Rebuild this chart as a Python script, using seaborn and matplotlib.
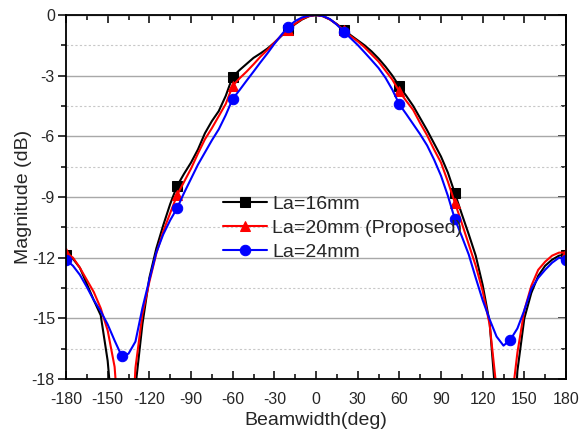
import matplotlib
matplotlib.use("Agg")
import matplotlib.pyplot as plt
import numpy as np
import pandas as pd
import seaborn as sns
from matplotlib.ticker import MultipleLocator

# ---- data ----
angles = list(range(-180, 181, 5))

la16 = [-11.85, -12.05, -12.5, -13.3, -14.1, -14.85, -17.1, -21.0, -27.0, -27.0,
        -18.4, -15.3, -13.0, -11.55, -10.4, -9.35, -8.45, -7.85, -7.3, -6.65,
        -5.85, -5.25, -4.75, -4.0, -3.05, -2.72, -2.42, -2.12, -1.9, -1.66,
        -1.37, -1.04, -0.74, -0.45, -0.22, -0.06, 0.0, -0.06, -0.22, -0.45,
        -0.72, -1.0, -1.25, -1.5, -1.8, -2.15, -2.55, -3.0, -3.53, -4.0,
        -4.5, -5.1, -5.7, -6.35, -7.0, -7.8, -8.82, -9.85, -10.85, -11.9,
        -13.35, -15.2, -19.5, -27.0, -24.0, -17.6, -15.0, -13.75, -12.9, -12.4,
        -12.1, -11.9, -11.85]

la20 = [-11.75, -12.0, -12.5, -13.1, -13.7, -14.5, -15.6, -17.4, -22.0, -24.0,
        -17.45, -14.8, -13.2, -11.8, -10.7, -9.8, -8.9, -8.25, -7.6, -6.85,
        -6.15, -5.6, -5.0, -4.4, -3.5, -3.13, -2.8, -2.44, -2.06, -1.73,
        -1.37, -1.02, -0.72, -0.43, -0.2, -0.05, 0.0, -0.06, -0.22, -0.46,
        -0.75, -1.05, -1.3, -1.6, -1.95, -2.3, -2.75, -3.2, -3.78, -4.25,
        -4.7, -5.35, -5.95, -6.65, -7.3, -8.25, -9.28, -10.3, -11.35, -12.4,
        -13.65, -15.3, -18.5, -24.0, -19.6, -16.7, -14.6, -13.4, -12.6, -12.2,
        -11.9, -11.75, -11.75]

la24 = [-12.1, -12.4, -12.85, -13.45, -14.1, -14.65, -15.3, -16.1, -16.85, -16.75,
        -16.15, -14.5, -13.1, -11.75, -10.85, -10.15, -9.55, -8.8, -8.1, -7.4,
        -6.8, -6.2, -5.65, -4.95, -4.15, -3.71, -3.25, -2.8, -2.34, -1.9,
        -1.43, -0.99, -0.58, -0.3, -0.12, -0.03, 0.0, -0.05, -0.2, -0.48,
        -0.82, -1.15, -1.48, -1.85, -2.23, -2.62, -3.1, -3.7, -4.42, -4.9,
        -5.4, -5.9, -6.45, -7.15, -7.95, -8.95, -10.1, -10.95, -11.85, -13.0,
        -14.1, -15.05, -15.9, -16.35, -16.05, -15.5, -14.6, -13.55, -13.0, -12.6,
        -12.25, -12.0, -12.1]

series_labels = ["La=16mm", "La=20mm (Proposed)", "La=24mm"]
x_ticks = list(range(-180, 181, 30))
y_ticks = list(range(-18, 1, 3))

# ---- style ----
sns.set_style("ticks")
plt.rcParams["font.family"] = ["Liberation Sans", "DejaVu Sans"]
plt.rcParams["axes.unicode_minus"] = False

df = pd.DataFrame({
    "angle": angles * 3,
    "mag": la16 + la20 + la24,
    "series": [series_labels[0]] * len(angles) + [series_labels[1]] * len(angles)
              + [series_labels[2]] * len(angles),
})

fig = plt.figure(figsize=(5.82, 4.34), dpi=100)
ax = fig.add_axes([66 / 582, 1 - 379 / 434, 500 / 582, 364 / 434])

colors = ["#000000", "#ff0000", "#0000ff"]
markers = ["s", "^", "o"]
msizes = [7, 7.5, 7.5]
for lab, col, mk, ms in zip(series_labels, colors, markers, msizes):
    sub = df[df["series"] == lab]
    sns.lineplot(data=sub, x="angle", y="mag", ax=ax, color=col, lw=1.5,
                 marker=mk, markersize=ms, markevery=slice(0, None, 8),
                 markeredgecolor=col, markerfacecolor=col, label=lab)

ax.set_xlim(-180, 180)
ax.set_ylim(-18, 0)
ax.set_xticks(x_ticks)
ax.set_yticks(y_ticks)
ax.xaxis.set_minor_locator(MultipleLocator(15))
ax.yaxis.set_minor_locator(MultipleLocator(1.5))

ax.set_axisbelow(True)
ax.yaxis.grid(True, which="major", color="#a8a8a8", lw=1.0)
ax.yaxis.grid(True, which="minor", color="#c8c8c8", lw=0.8, ls=(0, (2, 2)))
ax.xaxis.grid(False)

for s in ax.spines.values():
    s.set_color("black")
    s.set_linewidth(1.3)

ax.tick_params(axis="x", which="both", direction="in", top=True, bottom=True,
               labelsize=11.5, pad=9, color="black", width=1.1)
ax.tick_params(axis="x", which="major", length=6)
ax.tick_params(axis="x", which="minor", length=3.5)
ax.tick_params(axis="y", which="both", direction="out", left=True, right=False,
               labelsize=11.5, pad=2, color="black", width=1.1)
ax.tick_params(axis="y", which="major", length=6)
ax.tick_params(axis="y", which="minor", length=3.5)

sec = ax.secondary_yaxis("right")
sec.set_yticks(y_ticks)
sec.yaxis.set_minor_locator(MultipleLocator(1.5))
sec.tick_params(which="both", direction="in", labelright=False, color="black", width=1.1)
sec.tick_params(which="major", length=6)
sec.tick_params(which="minor", length=3.5)
sec.spines["right"].set_linewidth(1.3)

ax.set_xlabel("Beamwidth(deg)", fontsize=14, labelpad=4)
ax.set_ylabel("Magnitude (dB)", fontsize=14, labelpad=0)

ax.legend(loc="upper left", bbox_to_anchor=(222.7 / 582, 1 - 195.5 / 434),
          bbox_transform=fig.transFigure, frameon=False, fontsize=14,
          handlelength=2.26, handletextpad=0.3, labelspacing=0.33,
          borderpad=0, borderaxespad=0, numpoints=1)

fig.savefig("out.png", dpi=100)
